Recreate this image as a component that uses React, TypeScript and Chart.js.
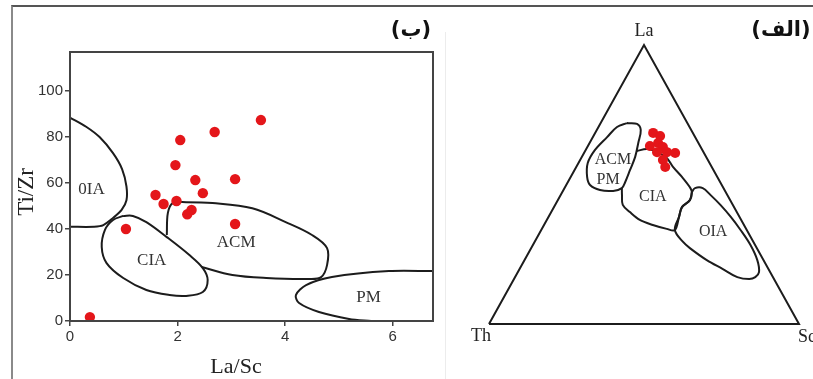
import { useEffect, useRef } from 'react';
import { Chart, registerables } from 'chart.js';

Chart.register(...registerables);

// ---------- Left panel (ب): La/Sc vs Ti/Zr ----------
const laSc = [3.55, 2.69, 2.05, 1.96, 2.33, 3.07, 1.59, 2.47, 1.74, 1.98, 2.26, 2.18, 3.07, 1.04, 0.37];
const tiZr = [87.4, 82.2, 78.7, 67.8, 61.3, 61.7, 54.8, 55.6, 50.9, 52.2, 48.3, 46.4, 42.2, 40.0, 1.7];

const xTicks = [0, 2, 4, 6];
const yTicks = [0, 20, 40, 60, 80, 100];

// field boundaries [La/Sc, Ti/Zr]
const fieldOIA = [[0, 88.5], [0.3, 84.5], [0.55, 80], [0.8, 73], [0.97, 66], [1.05, 58.5], [1.05, 52.5], [0.96, 48.3], [0.8, 44.8], [0.62, 41.7], [0.45, 41], [0, 41]];
const fieldCIA = [[0.99, 45.7], [1.17, 45.7], [1.42, 43], [1.8, 36.5], [2.22, 28.7], [2.47, 23], [2.56, 17.8], [2.47, 12.6], [2.16, 10.9], [1.85, 11.3], [1.42, 13.5], [0.99, 18.7], [0.68, 25.2], [0.59, 32.2], [0.65, 39.6], [0.8, 43.9], [0.99, 45.7]];
const fieldACM = [[2.45, 23.5], [3.02, 20], [3.65, 18.7], [4.44, 18.3], [4.67, 19.1], [4.78, 24.3], [4.78, 31.7], [4.5, 37.4], [4.01, 43], [3.39, 49], [2.65, 51.3], [2.16, 51.7], [1.91, 51.3], [1.82, 47], [1.8, 37.4]];
const fieldPM = [[6.75, 21.7], [5.93, 21.7], [4.87, 19.1], [4.39, 15.6], [4.2, 11.3], [4.26, 7.8], [4.63, 3.9], [5.19, 0.9], [5.6, 0]];

const leftFieldNames = ['0IA', 'CIA', 'ACM', 'PM'];
const leftFieldNameX = [0.4, 1.52, 3.09, 5.55];
const leftFieldNameY = [57, 26.5, 34.3, 10.4];

// ---------- Right panel (الف): La–Th–Sc ternary ----------
const ternLa = [68.5, 67.4, 64.9, 63.8, 63.4, 61.6, 61.6, 61.3, 58.8, 56.3];
const ternTh = [12.8, 11.1, 13.0, 16.2, 12.2, 11.8, 15.0, 9.3, 14.5, 15.0];
const ternSc = [18.7, 21.5, 22.1, 20.0, 24.4, 26.6, 23.4, 29.4, 26.7, 28.7];

// field boundaries [La, Th, Sc]
const ternTriangle = [[0, 100, 0], [0, 0, 100], [100, 0, 0], [0, 100, 0]];
const ternACMPM = [[72.0, 19.5, 8.5], [71.7, 16.4, 11.9], [69.5, 16.3, 14.2], [64.9, 19.4, 15.7], [59.9, 22.9, 17.2], [55.2, 26.9, 17.9], [50.9, 30.6, 18.5], [48.7, 32.8, 18.5], [47.7, 36.1, 16.2], [48.0, 40.2, 11.8], [49.8, 42.5, 7.7], [52.7, 42.0, 5.3], [57.7, 39.3, 3.0], [62.4, 34.6, 3.0], [67.0, 28.4, 4.6], [70.6, 23.4, 6.0], [72.0, 19.5, 8.5]];
const ternCIA = [[62.0, 21.3, 16.7], [62.7, 17.7, 19.6], [61.6, 15.0, 23.4], [59.5, 12.9, 27.6], [56.3, 12.5, 31.2], [52.7, 11.4, 35.9], [49.1, 10.7, 40.2], [47.3, 10.9, 41.8], [44.4, 13.0, 42.6], [41.9, 16.8, 41.3], [38.4, 19.5, 42.1], [33.7, 23.2, 43.1], [34.1, 25.6, 40.3], [35.5, 29.4, 35.1], [37.3, 32.7, 30.0], [40.1, 34.5, 25.4], [42.7, 35.5, 21.8], [46.2, 34.0, 19.8], [48.7, 32.8, 18.5]];
const ternOIA = [[47.3, 10.9, 41.8], [48.7, 9.2, 42.1], [48.7, 6.7, 44.6], [46.2, 5.4, 48.4], [42.7, 4.0, 53.3], [38.4, 2.8, 58.8], [33.7, 2.0, 64.3], [28.3, 1.5, 70.2], [22.9, 2.0, 75.1], [18.6, 3.6, 77.8], [16.8, 5.7, 77.5], [16.1, 8.0, 75.9], [16.8, 11.5, 71.7], [19.7, 14.7, 65.6], [22.9, 18.3, 58.8], [27.2, 21.6, 51.2], [29.4, 22.7, 47.9], [33.7, 23.2, 43.1], [38.4, 19.5, 42.1], [41.9, 16.8, 41.3], [44.4, 13.0, 42.6], [47.3, 10.9, 41.8]];

const ternFieldNames = ['ACM', 'PM', 'CIA', 'OIA'];
const ternFieldNamePos = [[58.8, 30.6, 10.6], [51.6, 35.8, 12.6], [45.5, 24.4, 30.1], [33.0, 11.2, 55.8]];

const toXY = (c: number[]) => {
  const [la, th, sc] = c;
  const s = la + th + sc;
  return { x: ((sc + la / 2) / s) * 100, y: (la / s) * 100 };
};

const RED = 'rgb(228,22,26)';
const LINE = '#1c1c1c';
const SERIF = '"Liberation Serif", "Times New Roman", serif';

const fieldDataset = (pts: { x: number; y: number }[], tension = 0.35) => ({
  data: pts,
  showLine: true,
  borderColor: LINE,
  borderWidth: 2,
  pointRadius: 0,
  pointHoverRadius: 0,
  tension,
  fill: false,
  clip: false as const,
});

export default function App() {
  const leftRef = useRef<HTMLCanvasElement>(null);
  const rightRef = useRef<HTMLCanvasElement>(null);

  useEffect(() => {
    const leftDecor = {
      id: 'leftDecor',
      afterDatasetsDraw(chart: any) {
        const { ctx, chartArea: a, scales } = chart;
        ctx.save();
        ctx.strokeStyle = '#444';
        ctx.lineWidth = 2;
        ctx.strokeRect(a.left, a.top, a.right - a.left, a.bottom - a.top);
        ctx.fillStyle = '#333';
        ctx.font = `17px ${SERIF}`;
        ctx.textAlign = 'center';
        ctx.textBaseline = 'middle';
        leftFieldNames.forEach((t, i) => {
          ctx.fillText(t, scales.x.getPixelForValue(leftFieldNameX[i]), scales.y.getPixelForValue(leftFieldNameY[i]));
        });
        ctx.fillStyle = '#222';
        ctx.font = `22px ${SERIF}`;
        ctx.fillText('La/Sc', a.left + 166, 367);
        ctx.save();
        ctx.translate(27, 192);
        ctx.rotate(-Math.PI / 2);
        ctx.font = `23px ${SERIF}`;
        ctx.fillText('Ti/Zr', 0, 0);
        ctx.restore();
        ctx.fillStyle = '#111';
        ctx.font = 'bold 21px "DejaVu Sans", sans-serif';
        ctx.fillText('(ب)', 411, 31);
        ctx.restore();
      },
    };

    const rightDecor = {
      id: 'rightDecor',
      afterDatasetsDraw(chart: any) {
        const { ctx, scales } = chart;
        const px = (c: number[]) => {
          const p = toXY(c);
          return [scales.x.getPixelForValue(p.x), scales.y.getPixelForValue(p.y)];
        };
        ctx.save();
        ctx.textAlign = 'center';
        ctx.textBaseline = 'middle';
        ctx.fillStyle = '#333';
        ctx.font = `16px ${SERIF}`;
        ternFieldNames.forEach((t, i) => {
          const [x, y] = px(ternFieldNamePos[i]);
          ctx.fillText(t, x, y);
        });
        ctx.fillStyle = '#222';
        ctx.font = `18px ${SERIF}`;
        const [lx, ly] = px([100, 0, 0]);
        ctx.fillText('La', lx, ly - 14);
        const [tx, ty] = px([0, 100, 0]);
        ctx.fillText('Th', tx - 8, ty + 12);
        const [sx, sy] = px([0, 0, 100]);
        ctx.textAlign = 'left';
        ctx.fillText('Sc', sx - 1, sy + 13);
        ctx.textAlign = 'center';
        ctx.fillStyle = '#111';
        ctx.font = 'bold 21px "DejaVu Sans", sans-serif';
        ctx.fillText('(الف)', 336, 31);
        ctx.restore();
      },
    };

    const tickFont = { family: '"Liberation Sans", Arial, sans-serif', size: 15 };

    const left = new Chart(leftRef.current!, {
      type: 'scatter',
      data: {
        datasets: [
          {
            data: laSc.map((x, i) => ({ x, y: tiZr[i] })),
            backgroundColor: RED,
            borderColor: RED,
            pointRadius: 5.2,
            pointBorderWidth: 0,
          } as any,
          fieldDataset(fieldOIA.map(([x, y]) => ({ x, y })), 0.3),
          fieldDataset(fieldCIA.map(([x, y]) => ({ x, y }))),
          fieldDataset(fieldACM.map(([x, y]) => ({ x, y }))),
          fieldDataset(fieldPM.map(([x, y]) => ({ x, y })), 0.3),
        ],
      },
      options: {
        responsive: false,
        animation: false,
        events: [],
        layout: { padding: { left: 0, top: 52, right: 12, bottom: 0 } },
        plugins: { legend: { display: false }, tooltip: { enabled: false } },
        scales: {
          x: {
            type: 'linear',
            min: 0,
            max: 6.75,
            afterBuildTicks: (s: any) => {
              s.ticks = xTicks.map((v) => ({ value: v }));
            },
            afterFit: (s: any) => {
              s.height = 58;
            },
            grid: { display: true, drawOnChartArea: false, drawTicks: true, tickLength: 5, color: '#444', lineWidth: 1.5 },
            border: { display: false },
            ticks: { color: '#333', font: tickFont, padding: 2, maxRotation: 0 },
          },
          y: {
            type: 'linear',
            min: 0,
            max: 117,
            afterBuildTicks: (s: any) => {
              s.ticks = yTicks.map((v) => ({ value: v }));
            },
            afterFit: (s: any) => {
              s.width = 70;
            },
            grid: { display: true, drawOnChartArea: false, drawTicks: true, tickLength: 5, color: '#444', lineWidth: 1.5 },
            border: { display: false },
            ticks: { color: '#333', font: tickFont, padding: 2 },
          },
        },
      },
      plugins: [leftDecor],
    } as any);

    const right = new Chart(rightRef.current!, {
      type: 'scatter',
      data: {
        datasets: [
          {
            data: ternLa.map((la, i) => toXY([la, ternTh[i], ternSc[i]])),
            backgroundColor: RED,
            borderColor: RED,
            pointRadius: 5,
            pointBorderWidth: 0,
          } as any,
          { ...fieldDataset(ternTriangle.map(toXY), 0), borderWidth: 2, borderJoinStyle: 'miter' },
          fieldDataset(ternACMPM.map(toXY)),
          fieldDataset(ternCIA.map(toXY)),
          fieldDataset(ternOIA.map(toXY)),
        ],
      },
      options: {
        responsive: false,
        animation: false,
        events: [],
        layout: { padding: { left: 44, top: 45, right: 14, bottom: 55 } },
        plugins: { legend: { display: false }, tooltip: { enabled: false } },
        scales: {
          x: { type: 'linear', min: 0, max: 100, display: false },
          y: { type: 'linear', min: 0, max: 100, display: false },
        },
      },
      plugins: [rightDecor],
    } as any);

    return () => {
      left.destroy();
      right.destroy();
    };
  }, []);

  return (
    <div style={{ position: 'absolute', left: 0, top: 0, width: 813, height: 379, overflow: 'hidden', background: '#fff' }}>
      <div style={{ position: 'absolute', left: 11, top: 5, width: 802, height: 374, borderTop: '2px solid #555', borderLeft: '2px solid #8a8a8a', boxSizing: 'border-box' }} />
      <div style={{ position: 'absolute', left: 445, top: 32, width: 1, height: 347, background: '#ececec' }} />
      <canvas ref={leftRef} width={445} height={379} style={{ position: 'absolute', left: 0, top: 0, width: 445, height: 379 }} />
      <canvas ref={rightRef} width={368} height={379} style={{ position: 'absolute', left: 445, top: 0, width: 368, height: 379 }} />
    </div>
  );
}
